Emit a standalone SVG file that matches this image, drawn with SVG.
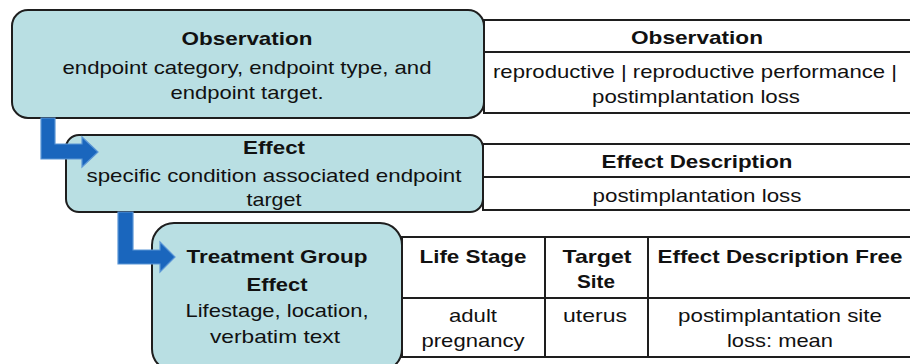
<svg xmlns="http://www.w3.org/2000/svg" width="910" height="364" viewBox="0 0 910 364">
  <style>
    .box { fill: #b9dfe3; stroke: #1e1e1e; stroke-width: 2; }
    .grid { fill: #ffffff; stroke: #1e1e1e; stroke-width: 2; }
    .rule { stroke: #1e1e1e; stroke-width: 2; fill: none; }
    text { font-family: "Liberation Sans", Arial, sans-serif; font-size: 19px; fill: #111; text-anchor: middle; }
    .b { font-weight: bold; }
    .arrow { fill: #1a66bd; stroke: #5a96d6; stroke-width: 1.2; stroke-linejoin: miter; }
  </style>
  <rect width="910" height="364" fill="#ffffff"/>

  <!-- Observation level -->
  <g id="observation-table">
    <rect class="grid" x="484" y="20" width="440" height="93"/>
    <line class="rule" x1="484" y1="52" x2="910" y2="52"/>
    <text class="b" x="697" y="44" textLength="132" lengthAdjust="spacingAndGlyphs">Observation</text>
    <text x="695" y="78" textLength="404" lengthAdjust="spacingAndGlyphs">reproductive | reproductive performance |</text>
    <text x="696" y="103" textLength="208" lengthAdjust="spacingAndGlyphs">postimplantation loss</text>
  </g>
  <g id="observation">
    <rect class="box" x="12" y="10" width="472" height="108" rx="16"/>
    <text class="b" x="247" y="45" textLength="131" lengthAdjust="spacingAndGlyphs">Observation</text>
    <text x="247" y="74" textLength="369" lengthAdjust="spacingAndGlyphs">endpoint category, endpoint type, and</text>
    <text x="247" y="99" textLength="153" lengthAdjust="spacingAndGlyphs">endpoint target.</text>
  </g>

  <!-- Effect level -->
  <g id="effect-table">
    <rect class="grid" x="483" y="144" width="440" height="66"/>
    <line class="rule" x1="483" y1="177" x2="910" y2="177"/>
    <text class="b" x="697" y="168" textLength="191" lengthAdjust="spacingAndGlyphs">Effect Description</text>
    <text x="697" y="202" textLength="209" lengthAdjust="spacingAndGlyphs">postimplantation loss</text>
  </g>
  <g id="effect">
    <rect class="box" x="66" y="135" width="417" height="77" rx="13"/>
    <text class="b" x="274" y="154" textLength="62" lengthAdjust="spacingAndGlyphs">Effect</text>
    <text x="274" y="182" textLength="375" lengthAdjust="spacingAndGlyphs">specific condition associated endpoint</text>
    <text x="274" y="206" textLength="55" lengthAdjust="spacingAndGlyphs">target</text>
  </g>

  <!-- Treatment group level -->
  <g id="treatment-table">
    <rect class="grid" x="402" y="237" width="520" height="120"/>
    <line class="rule" x1="402" y1="298" x2="910" y2="298"/>
    <line class="rule" x1="545" y1="237" x2="545" y2="357"/>
    <line class="rule" x1="648" y1="237" x2="648" y2="357"/>
    <text class="b" x="473" y="263" textLength="107" lengthAdjust="spacingAndGlyphs">Life Stage</text>
    <text class="b" x="597" y="263" textLength="69" lengthAdjust="spacingAndGlyphs">Target</text>
    <text class="b" x="596" y="288" textLength="38" lengthAdjust="spacingAndGlyphs">Site</text>
    <text class="b" x="780" y="263" textLength="245" lengthAdjust="spacingAndGlyphs">Effect Description Free</text>
    <text x="473" y="322" textLength="48" lengthAdjust="spacingAndGlyphs">adult</text>
    <text x="473" y="347" textLength="103" lengthAdjust="spacingAndGlyphs">pregnancy</text>
    <text x="595" y="322" textLength="64" lengthAdjust="spacingAndGlyphs">uterus</text>
    <text x="780" y="322" textLength="204" lengthAdjust="spacingAndGlyphs">postimplantation site</text>
    <text x="780" y="347" textLength="106" lengthAdjust="spacingAndGlyphs">loss: mean</text>
  </g>
  <g id="treatment-group-effect">
    <rect class="box" x="152" y="223" width="250" height="148" rx="22"/>
    <text class="b" x="277" y="263" textLength="181" lengthAdjust="spacingAndGlyphs">Treatment Group</text>
    <text class="b" x="277" y="291" textLength="61" lengthAdjust="spacingAndGlyphs">Effect</text>
    <text x="277" y="317" textLength="183" lengthAdjust="spacingAndGlyphs">Lifestage, location,</text>
    <text x="275" y="343" textLength="130" lengthAdjust="spacingAndGlyphs">verbatim text</text>
  </g>

  <!-- Elbow arrows linking the levels -->
  <g id="connectors">
    <polygon class="arrow" points="41,118 55,118 55,144 82,144 82,137 98,152 82,167 82,159 41,159"/>
    <polygon class="arrow" points="118,212 133,212 133,250 160,250 160,242 175,257 160,272 160,264 118,264"/>
  </g>
</svg>
